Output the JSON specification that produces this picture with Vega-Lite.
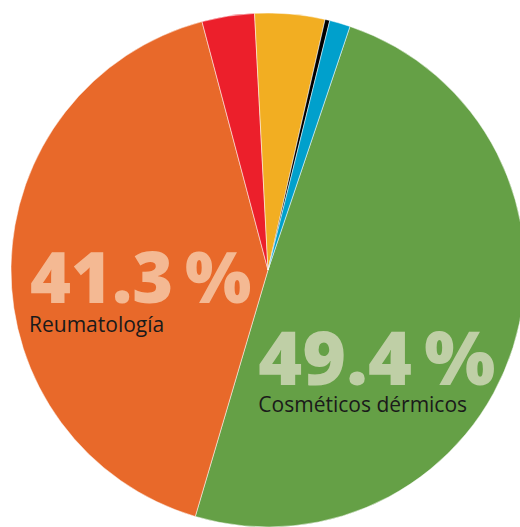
{
  "$schema": "https://vega.github.io/schema/vega-lite/v6.json",
  "width": 520,
  "height": 527,
  "autosize": {"type": "fit", "contains": "padding"},
  "padding": {"left": 16, "right": 0, "top": 13, "bottom": 0},
  "background": "white",
  "view": {"stroke": null},
  "data": {
    "values": [
      {"ord": 1, "cat": "Cosméticos dérmicos", "value": 49.4, "pct": "49.4\u2009%"},
      {"ord": 2, "cat": "Reumatología", "value": 41.3, "pct": "41.3\u2009%"},
      {"ord": 3, "cat": "Rojo", "value": 3.3, "pct": "3.3\u2009%"},
      {"ord": 4, "cat": "Amarillo", "value": 4.4, "pct": "4.4\u2009%"},
      {"ord": 5, "cat": "Negro", "value": 0.3, "pct": "0.3\u2009%"},
      {"ord": 6, "cat": "Azul", "value": 1.3, "pct": "1.3\u2009%"}
    ]
  },
  "encoding": {
    "theta": {"field": "value", "type": "quantitative", "stack": true, "scale": {"range": [0.3246, 6.6078]}},
    "order": {"field": "ord", "type": "quantitative"}
  },
  "layer": [
    {
      "mark": {"type": "arc", "radius": 257, "stroke": "white", "strokeWidth": 0.5},
      "encoding": {
        "color": {
          "field": "cat",
          "type": "nominal",
          "legend": null,
          "scale": {
            "domain": ["Cosméticos dérmicos", "Reumatología", "Rojo", "Amarillo", "Negro", "Azul"],
            "range": ["#65a046", "#e8692a", "#ec1f2b", "#f2ae22", "#000000", "#00a0cc"]
          }
        }
      }
    },
    {
      "mark": {"type": "text", "radius": 238, "align": "left", "baseline": "alphabetic", "dx": 0, "dy": 36, "font": "Open Sans", "fontWeight": 800, "fontSize": 70, "fill": "#f4b993"},
      "encoding": {
        "text": {"condition": {"test": "datum.cat === 'Reumatología'", "field": "pct"}, "value": ""}
      }
    },
    {
      "mark": {"type": "text", "radius": 238, "align": "left", "baseline": "alphabetic", "dx": -1, "dy": 65, "font": "Open Sans", "fontSize": 21, "fill": "#1a1a1a"},
      "encoding": {
        "text": {"condition": {"test": "datum.cat === 'Reumatología'", "field": "cat"}, "value": ""}
      }
    },
    {
      "mark": {"type": "text", "radius": 100, "align": "left", "baseline": "alphabetic", "dx": -105, "dy": 85, "font": "Open Sans", "fontWeight": 800, "fontSize": 75, "fill": "#bfcfa6"},
      "encoding": {
        "text": {"condition": {"test": "datum.cat === 'Cosméticos dérmicos'", "field": "pct"}, "value": ""}
      }
    },
    {
      "mark": {"type": "text", "radius": 100, "align": "left", "baseline": "alphabetic", "dx": -105, "dy": 112, "font": "Open Sans", "fontSize": 21, "fill": "#1a1a1a"},
      "encoding": {
        "text": {"condition": {"test": "datum.cat === 'Cosméticos dérmicos'", "field": "cat"}, "value": ""}
      }
    }
  ]
}
